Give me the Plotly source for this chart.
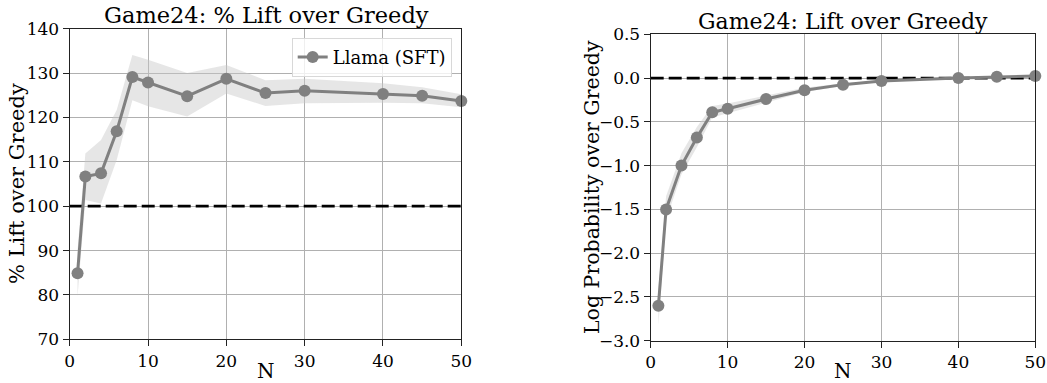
import plotly.graph_objects as go

N = [1, 2, 4, 6, 8, 10, 15, 20, 25, 30, 40, 45, 50]
lift_mean = [84.9, 106.7, 107.4, 116.9, 129.1, 127.9, 124.8, 128.7, 125.5, 126.0, 125.3, 124.9, 123.7]
lift_upper = [90.0, 111.9, 114.9, 121.7, 134.1, 133.0, 130.0, 131.8, 128.4, 128.7, 127.7, 126.8, 125.2]
lift_lower = [79.6, 101.4, 100.6, 110.4, 123.9, 122.5, 120.2, 125.4, 122.6, 123.2, 123.3, 123.2, 122.3]

logp_mean = [-2.60, -1.50, -1.00, -0.68, -0.39, -0.35, -0.24, -0.14, -0.075, -0.033, 0.0, 0.016, 0.024]
logp_upper = [-2.40, -1.35, -0.86, -0.56, -0.32, -0.29, -0.20, -0.11, -0.06, -0.025, 0.006, 0.022, 0.03]
logp_lower = [-2.82, -1.62, -1.10, -0.79, -0.45, -0.40, -0.28, -0.16, -0.09, -0.04, -0.006, 0.01, 0.018]

lift_baseline = 100
logp_baseline = 0

FONT = "DejaVu Serif"
GREY = "#808080"
BAND = "rgba(200,200,200,0.45)"
H = 383.0
W = 1047.0

fig = go.Figure()

def add_panel(xa, ya, mean, upper, lower, base, showlegend):
    fig.add_trace(go.Scatter(x=N + N[::-1], y=upper + lower[::-1], fill="toself",
                             fillcolor=BAND, line=dict(width=0), hoverinfo="skip",
                             showlegend=False, xaxis=xa, yaxis=ya))
    fig.add_trace(go.Scatter(x=[0, 50], y=[base, base], mode="lines",
                             line=dict(color="black", width=2.8, dash="13px,5px"),
                             showlegend=False, xaxis=xa, yaxis=ya))
    fig.add_trace(go.Scatter(x=N, y=mean, mode="lines+markers", name="Llama (SFT)",
                             line=dict(color=GREY, width=3),
                             marker=dict(color=GREY, size=12),
                             showlegend=showlegend, xaxis=xa, yaxis=ya, cliponaxis=False))

add_panel("x", "y", lift_mean, lift_upper, lift_lower, lift_baseline, True)
add_panel("x2", "y2", logp_mean, logp_upper, logp_lower, logp_baseline, False)

ax_common = dict(showline=True, linecolor="#222222", linewidth=1.2, mirror=True,
                 showgrid=True, gridcolor="#b0b0b0", gridwidth=1,
                 ticks="outside", ticklen=6, tickcolor="#222222",
                 tickfont=dict(family=FONT, size=17, color="black"),
                 zeroline=False, automargin=False)

def px(x):
    return x / W

def py(y):
    return 1 - y / H

def ann(text, x, y, size, angle=0):
    return dict(text=text, x=px(x), y=py(y), xref="paper", yref="paper",
                xanchor="center", yanchor="middle", showarrow=False, textangle=angle,
                font=dict(family=FONT, size=size, color="black"))

fig.update_layout(
    width=1047, height=383,
    margin=dict(l=0, r=0, t=0, b=0),
    paper_bgcolor="white", plot_bgcolor="white",
    font=dict(family=FONT, color="black"),
    xaxis=dict(domain=[px(69.7), px(461.3)], range=[0, 50], tickvals=[0, 10, 20, 30, 40, 50], **ax_common),
    yaxis=dict(domain=[py(339.3), py(28.7)], range=[70, 140], tickvals=[70, 80, 90, 100, 110, 120, 130, 140], **ax_common),
    xaxis2=dict(domain=[px(650.7), px(1035.3)], range=[0, 50], tickvals=[0, 10, 20, 30, 40, 50],
                anchor="y2", **ax_common),
    yaxis2=dict(domain=[py(340.7), py(34.3)], range=[-3.0, 0.5], tickvals=[-3.0, -2.5, -2.0, -1.5, -1.0, -0.5, 0.0, 0.5],
                ticktext=["\u22123.0", "\u22122.5", "\u22122.0", "\u22121.5", "\u22121.0", "\u22120.5", "0.0", "0.5"],
                anchor="x2", **ax_common),
    legend=dict(x=px(451.7), xanchor="right", y=py(37.7), yanchor="top",
                bgcolor="rgba(255,255,255,0.8)", bordercolor="#d8d8d8", borderwidth=1,
                font=dict(family=FONT, size=18, color="black")),
    annotations=[
        ann("Game24: % Lift over Greedy", 266, 15, 22.5),
        ann("Game24: Lift over Greedy", 842.5, 21, 22),
        ann("N", 266, 371, 20),
        ann("N", 843, 371, 20),
        ann("% Lift over Greedy", 17, 184, 21, -90),
        ann("Log Probability over Greedy", 592, 187, 20.5, -90),
    ],
)

fig.write_html("out.html", config={"displayModeBar": False},
               post_script="document.body.style.margin='0';document.body.style.overflow='hidden';")
